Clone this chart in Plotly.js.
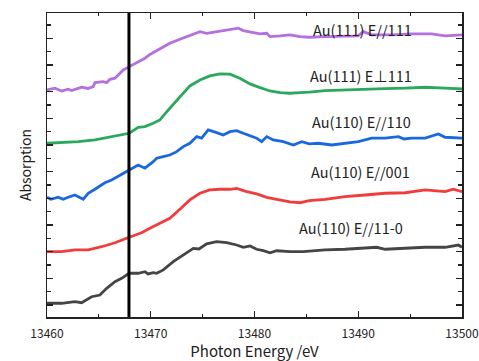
<!DOCTYPE html>
<html>
<head>
<meta charset="utf-8">
<script src="https://cdn.plot.ly/plotly-3.0.1.min.js"></script>
<style>html,body{margin:0;padding:0;background:#fff;}#chart{width:479px;height:361px;}</style>
</head>
<body>
<div id="chart"></div>
<script>
// ---- data (photon energy in eV, absorption in arbitrary offset units) ----
const seriesNames = ["Au(111) E//111", "Au(111) E\u22a5111", "Au(110) E//110", "Au(110) E//001", "Au(110) E//11-0"];
const seriesColors = ["#b46fe0", "#2aa85c", "#1a68e0", "#f23c3c", "#454545"];

const purpleX = [13460.0,13460.76,13461.41,13462.04,13462.37,13463.34,13463.94,13464.46,13464.62,13465.42,13465.75,13466.07,13466.55,13467.35,13467.93,13468.79,13469.44,13469.92,13470.24,13470.88,13471.84,13472.81,13473.46,13474.43,13474.74,13475.39,13476.35,13477.32,13477.96,13478.44,13478.92,13479.57,13480.53,13481.18,13481.49,13482.46,13483.42,13484.39,13485.28,13486.8,13488.73,13489.98,13490.49,13491.3,13493.23,13495.16,13497.09,13498.37,13500.0];
const purpleY = [16.13,16.26,16.05,16.18,16.08,16.34,16.24,16.38,16.68,16.75,16.68,16.93,17.01,17.63,17.88,18.25,18.51,18.79,18.93,19.26,19.63,19.93,20.13,20.43,20.5,20.38,20.5,20.58,20.68,20.76,20.58,20.5,20.33,20.38,20.13,20.18,20.26,20.13,20.08,20.13,20.18,20.18,20.5,20.26,20.26,20.33,20.33,20.18,20.26];

const greenX = [13460.0,13461.41,13463.01,13464.62,13466.23,13467.93,13468.79,13469.44,13470.24,13470.88,13471.84,13472.81,13473.77,13474.74,13475.7,13476.66,13477.63,13478.59,13479.57,13480.53,13481.49,13482.46,13483.42,13484.39,13485.28,13486.8,13488.73,13490.66,13492.59,13494.52,13496.45,13498.37,13500.0];
const greenY = [12.13,12.18,12.25,12.38,12.63,12.88,13.33,13.38,13.63,13.88,14.76,15.63,16.43,16.88,17.18,17.33,17.31,17.01,16.58,16.3,16.05,15.93,15.88,15.93,15.96,16.08,16.13,16.23,16.23,16.26,16.33,16.26,16.2];

const blueX = [13460.0,13460.38,13461.08,13461.56,13462.04,13462.69,13463.49,13463.97,13464.62,13465.58,13466.23,13467.19,13467.93,13468.79,13469.44,13470.24,13470.57,13471.21,13471.84,13472.5,13473.13,13473.77,13474.43,13474.91,13475.54,13476.35,13476.99,13477.64,13478.28,13478.92,13479.57,13480.21,13480.69,13481.18,13481.81,13482.78,13483.74,13484.55,13485.28,13486.15,13487.44,13488.73,13490.01,13491.3,13492.59,13493.87,13494.42,13495.16,13496.45,13497.72,13498.37,13500.0];
const blueY = [8.08,7.93,8.08,7.93,8.08,8.25,7.93,8.38,8.68,9.17,9.38,9.83,10.13,10.5,10.26,10.75,11.01,11.13,11.25,11.5,11.88,12.13,12.63,12.51,13.13,12.93,12.75,13.0,13.08,12.88,12.68,12.51,12.25,12.63,12.38,12.25,12.0,12.25,12.08,12.13,12.0,12.13,12.25,12.51,12.51,12.63,12.45,12.51,12.51,12.83,12.58,12.51];

const redX = [13460.0,13461.41,13462.69,13463.97,13465.27,13466.55,13467.93,13469.12,13469.92,13470.88,13471.84,13472.81,13473.77,13474.74,13475.7,13476.66,13477.63,13478.28,13479.25,13480.21,13481.18,13482.14,13483.42,13484.39,13485.28,13486.8,13488.73,13490.66,13492.59,13494.52,13496.45,13498.37,13499.17,13500.0];
const redY = [4.0,4.0,4.13,4.13,4.37,4.67,5.08,5.42,5.75,6.13,6.5,7.18,7.88,8.38,8.63,8.68,8.68,8.75,8.5,8.33,8.08,7.93,7.73,7.67,7.82,7.93,8.12,8.25,8.38,8.42,8.63,8.5,8.68,8.5];

const grayX = [13460.0,13461.41,13462.69,13463.34,13464.3,13465.1,13465.75,13466.55,13467.19,13467.93,13468.79,13469.44,13469.73,13470.24,13470.57,13471.21,13472.17,13473.13,13474.1,13474.65,13475.39,13476.35,13477.32,13478.28,13478.92,13479.57,13480.21,13480.85,13481.49,13482.14,13483.42,13484.71,13486.8,13488.73,13490.66,13491.78,13492.59,13494.52,13496.45,13498.37,13499.65,13500.0];
const grayY = [0.13,0.13,0.25,0.17,0.62,0.75,1.25,1.75,2.0,2.38,2.38,2.5,2.33,2.42,2.38,2.63,3.25,3.75,4.25,4.2,4.58,4.75,4.67,4.5,4.33,4.43,4.18,4.07,3.92,4.07,4.0,4.0,4.13,4.18,4.25,4.33,4.18,4.25,4.33,4.33,4.5,4.33];

const edgeEnergy = [13467.9];
const xTickVals = [13460, 13470, 13480, 13490, 13500];
const xTickText = ["13460", "13470", "13480", "13490", "13500"];
const labelX = [13490.4, 13490.3, 13490.3, 13490.2, 13489.3];
const labelY = [20.7, 17.18, 13.8, 10.05, 5.78];

const xs = [purpleX, greenX, blueX, redX, grayX];
const ys = [purpleY, greenY, blueY, redY, grayY];

const FONT = "'Noto Sans CJK JP', 'Noto Sans', sans-serif";

const traces = xs.map((x, i) => ({
  x: x, y: ys[i], type: 'scatter', mode: 'lines', name: seriesNames[i],
  line: {color: seriesColors[i], width: 2.8}, hoverinfo: 'skip'
}));

const annotations = seriesNames.map((t, i) => ({
  x: labelX[i], y: labelY[i], xref: 'x', yref: 'y', text: t, showarrow: false,
  font: {family: FONT, size: 14.5, color: '#222'}, xanchor: 'center', yanchor: 'middle'
}));

const layout = {
  width: 479, height: 361,
  margin: {l: 47, r: 17, t: 13, b: 44},
  paper_bgcolor: '#fff', plot_bgcolor: '#fff',
  showlegend: false,
  font: {family: FONT, color: '#222'},
  xaxis: {
    range: [13460, 13500], showgrid: false, zeroline: false,
    showline: true, linecolor: '#222', linewidth: 1.5, mirror: 'ticks',
    ticks: 'inside', ticklen: 6, tickwidth: 1.2, tickcolor: '#222',
    tickmode: 'array', tickvals: xTickVals, ticktext: xTickText,
    ticklabelstandoff: 5,
    tickfont: {family: FONT, size: 12, color: '#222'},
    minor: {dtick: 5, tick0: 13460, ticks: 'inside', ticklen: 3, tickwidth: 1.2, tickcolor: '#222', showgrid: false},
    title: {text: 'Photon Energy /eV', font: {family: FONT, size: 15, color: '#222'}, standoff: 7}
  },
  yaxis: {
    range: [-0.9, 21.9], showgrid: false, zeroline: false,
    showline: true, linecolor: '#222', linewidth: 1.5, mirror: 'ticks',
    ticks: 'inside', ticklen: 6, tickwidth: 1.2, tickcolor: '#222',
    tick0: 0, dtick: 2, showticklabels: false,
    minor: {dtick: 1, tick0: 0, ticks: 'inside', ticklen: 4, tickwidth: 1.2, tickcolor: '#222', showgrid: false},
    title: {text: 'Absorption', font: {family: FONT, size: 14, color: '#222'}, standoff: 10}
  },
  shapes: edgeEnergy.map(e => ({
    type: 'line', xref: 'x', yref: 'paper', x0: e, x1: e, y0: 0, y1: 1,
    line: {color: '#000', width: 3}
  })),
  annotations: annotations
};

Plotly.newPlot('chart', traces, layout, {displayModeBar: false, staticPlot: true});
</script>
</body>
</html>
